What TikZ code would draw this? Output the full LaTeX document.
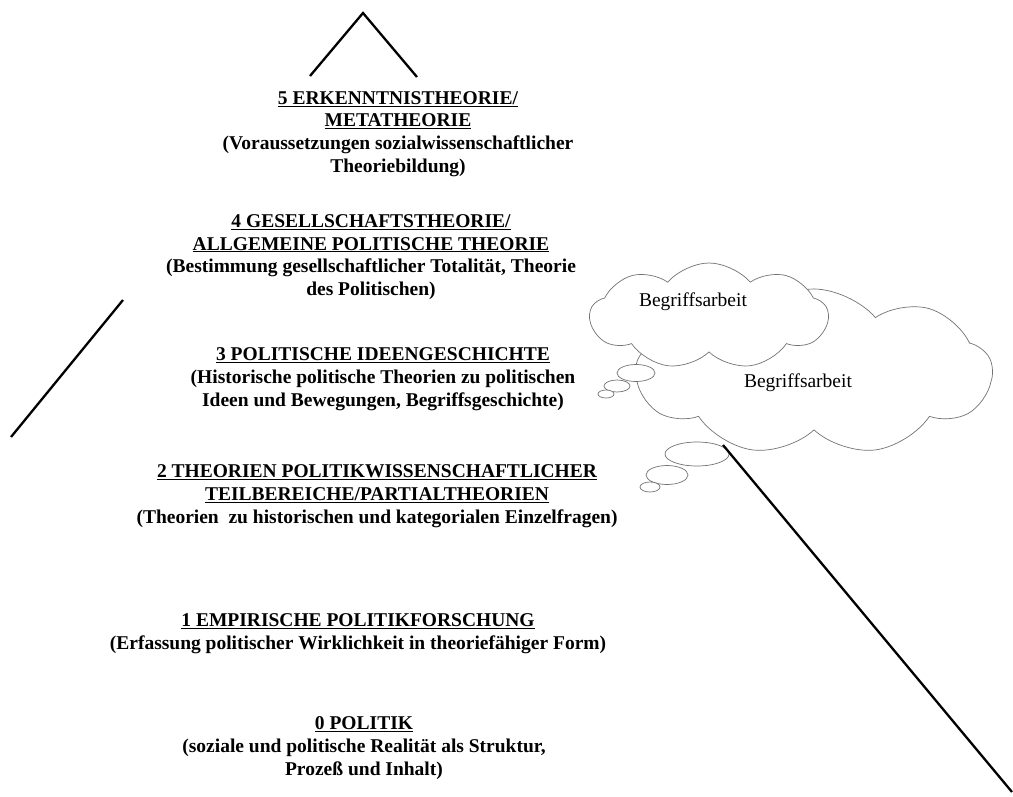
\documentclass[tikz,border=0pt]{standalone}
\usepackage{fontspec}
\setmainfont{Liberation Serif}
\usetikzlibrary{shapes.symbols,shapes.geometric}
\tikzset{
  level/.style={align=center, inner sep=0pt, font=\fontsize{19.5}{22.7}\selectfont\bfseries},
  cloudbox/.style={cloud, cloud puffs=9, cloud puff arc=100, cloud ignores aspect, draw=black!55, line width=0.7pt, fill=white, inner sep=0pt},
  bubble/.style={ellipse, draw=black!55, line width=0.7pt, fill=white, inner sep=0pt},
  cloudtext/.style={font=\fontsize{19.5}{22}\selectfont, inner sep=0pt},
  edge/.style={line width=2.3pt, black}
}
\newcommand{\hd}[1]{\underline{#1}}
\begin{document}
\begin{tikzpicture}[x=1pt,y=-1pt]
\useasboundingbox (0,0) rectangle (1013,796);
% pyramid lines
\coordinate (tl) at (310,76);
\coordinate (apex) at (363,13);
\coordinate (tr) at (417,77);
\draw[edge] (tl) -- (apex) -- (tr);
\coordinate (ls) at (123,300);
\coordinate (le) at (11,437);
\draw[edge] (ls) -- (le);
% clouds
\node[cloudbox, minimum width=356pt, minimum height=166pt] (c2) at (814,372) {};
\node[bubble, minimum width=64pt, minimum height=24pt] (b21) at (697,454) {};
\node[bubble, minimum width=42pt, minimum height=19pt] (b22) at (667,475) {};
\node[bubble, minimum width=20pt, minimum height=10pt] (b23) at (650,487) {};
\node[cloudbox, minimum width=238pt, minimum height=106pt] (c1) at (709,316) {};
\node[bubble, minimum width=38pt, minimum height=17pt] (b11) at (636,373) {};
\node[bubble, minimum width=26pt, minimum height=12pt] (b12) at (617,386) {};
\node[bubble, minimum width=16pt, minimum height=8pt] (b13) at (606,394) {};
\node[cloudtext] (t1) at (693,302) {Begriffsarbeit};
\node[cloudtext] (t2) at (798,383) {Begriffsarbeit};
\coordinate (rs) at (723,445);
\coordinate (re) at (1012,792);
\draw[edge] (rs) -- (re);
% levels
\node[level] (l5) at (398,134) {\hd{5 ERKENNTNISTHEORIE/}\\\hd{METATHEORIE}\\(Voraussetzungen sozialwissenschaftlicher\\Theoriebildung)};
\node[level] (l4) at (371,257) {\hd{4 GESELLSCHAFTSTHEORIE/}\\\hd{ALLGEMEINE POLITISCHE THEORIE}\\(Bestimmung gesellschaftlicher Totalität, Theorie\\des Politischen)};
\node[level] (l3) at (383,379) {\hd{3 POLITISCHE IDEENGESCHICHTE}\\(Historische politische Theorien zu politischen\\Ideen und Bewegungen, Begriffsgeschichte)};
\node[level] (l2) at (377,496) {\hd{2 THEORIEN POLITIKWISSENSCHAFTLICHER}\\\hd{TEILBEREICHE/PARTIALTHEORIEN}\\(Theorien\ \ zu historischen und kategorialen Einzelfragen)};
\node[level] (l1) at (358,634) {\hd{1 EMPIRISCHE POLITIKFORSCHUNG}\\(Erfassung politischer Wirklichkeit in theoriefähiger Form)};
\node[level] (l0) at (364,748) {\hd{0 POLITIK}\\(soziale und politische Realität als Struktur,\\Prozeß und Inhalt)};
\end{tikzpicture}
\end{document}
